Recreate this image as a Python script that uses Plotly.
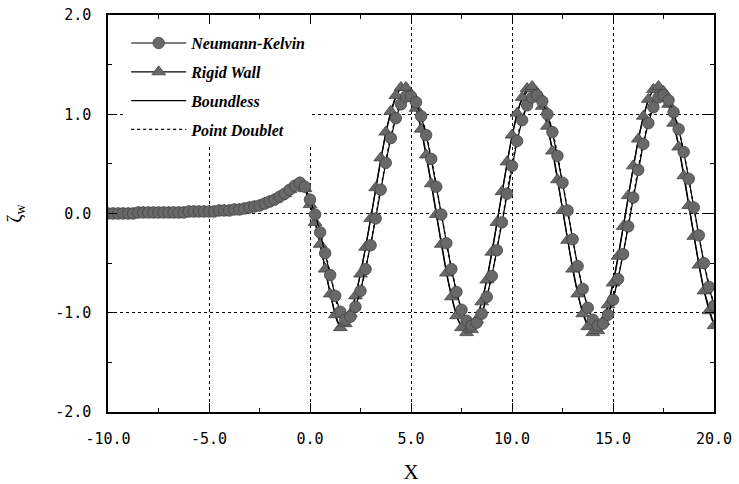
import plotly.graph_objects as go

# sampling grids (x positions of the computed points)
x_fine = [-10 + 0.25 * i for i in range(121)]
x_coarse = [-10 + 0.5 * i for i in range(61)]

# upstream part (x = -10 ... -0.5), common to both marker series
upstream = [0.00, 0.00, 0.00, 0.00, 0.00, 0.00, 0.01, 0.01, 0.01, 0.01,
            0.01, 0.01, 0.01, 0.01, 0.01, 0.01, 0.02, 0.02, 0.02, 0.02,
            0.02, 0.02, 0.03, 0.03, 0.03, 0.04, 0.04, 0.05, 0.06, 0.07,
            0.08, 0.10, 0.12, 0.14, 0.17, 0.20, 0.24, 0.28, 0.31]

neumann_kelvin = upstream + [
    0.27, 0.14, -0.01, -0.19, -0.40, -0.62, -0.83, -0.99,
    -1.07, -1.04, -0.94, -0.78, -0.56, -0.32, -0.05, 0.24, 0.51, 0.76,
    0.96, 1.10, 1.18, 1.18, 1.12, 0.98, 0.79, 0.55, 0.27, -0.01,
    -0.30, -0.56, -0.79, -0.97, -1.08, -1.13, -1.10, -1.01, -0.84, -0.63,
    -0.37, -0.09, 0.20, 0.48, 0.73, 0.94, 1.09, 1.17, 1.19, 1.13,
    1.00, 0.82, 0.58, 0.31, 0.03, -0.26, -0.53, -0.76, -0.95, -1.07,
    -1.13, -1.11, -1.02, -0.87, -0.66, -0.41, -0.13, 0.16, 0.44, 0.70,
    0.91, 1.07, 1.17, 1.19, 1.14, 1.02, 0.85, 0.62, 0.35, 0.06,
    -0.22, -0.50, -0.74, -0.93]

rigid_wall = upstream + [
    0.25, 0.09, -0.09, -0.31, -0.56, -0.81, -1.02,
    -1.15, -1.11, -1.01, -0.83, -0.61, -0.34, -0.05, 0.26, 0.56, 0.82,
    1.03, 1.19, 1.27, 1.27, 1.20, 1.06, 0.85, 0.59, 0.30, -0.01,
    -0.31, -0.60, -0.84, -1.03, -1.15, -1.20, -1.17, -1.07, -0.89, -0.67,
    -0.39, -0.09, 0.22, 0.52, 0.79, 1.01, 1.17, 1.26, 1.28, 1.21,
    1.08, 0.88, 0.63, 0.34, 0.03, -0.27, -0.56, -0.81, -1.01, -1.14,
    -1.20, -1.18, -1.09, -0.92, -0.70, -0.43, -0.13, 0.18, 0.48, 0.75,
    0.98, 1.15, 1.25, 1.28, 1.23, 1.10, 0.91, 0.67, 0.38, 0.08,
    -0.23, -0.52, -0.78, -0.98, -1.13]

boundless = [0.00, 0.00, 0.00, 0.01, 0.01, 0.01, 0.01, 0.01, 0.02, 0.02,
             0.02, 0.03, 0.03, 0.04, 0.06, 0.08, 0.12, 0.17, 0.24, 0.31,
             0.10, -0.30, -0.80, -1.13, -1.00, -0.60, -0.06, 0.54, 1.01, 1.25,
             1.19, 0.85, 0.31, -0.29, -0.82, -1.13, -1.16, -0.89, -0.40, 0.20,
             0.77, 1.15, 1.26, 1.08, 0.64, 0.05, -0.54, -0.99, -1.19, -1.09,
             -0.71, -0.15, 0.46, 0.96, 1.24, 1.23, 0.92, 0.40, -0.21, -0.76,
             -1.12]

point_doublet = [0.00, 0.00, 0.00, 0.01, 0.01, 0.01, 0.01, 0.01, 0.02, 0.02,
                 0.02, 0.03, 0.03, 0.04, 0.06, 0.08, 0.12, 0.17, 0.24, 0.31,
                 0.15, -0.18, -0.60, -0.98, -1.03, -0.77, -0.31, 0.25, 0.77, 1.11,
                 1.19, 0.99, 0.56, 0.00, -0.55, -0.96, -1.12, -1.00, -0.62, -0.08,
                 0.49, 0.95, 1.18, 1.13, 0.83, 0.32, -0.25, -0.75, -1.06, -1.10,
                 -0.86, -0.40, 0.17, 0.71, 1.08, 1.19, 1.02, 0.62, 0.06, -0.49,
                 -0.92]

assert len(neumann_kelvin) == len(x_fine) == len(rigid_wall)
assert len(boundless) == len(x_coarse) == len(point_doublet)

x_tick_vals = [-10, -5, 0, 5, 10, 15, 20]
x_tick_text = ["-10.0", "-5.0", "0.0", "5.0", "10.0", "15.0", "20.0"]
y_tick_vals = [-2, -1, 0, 1, 2]
y_tick_text = ["-2.0", "-1.0", "0.0", "1.0", "2.0"]
x_minor = [-7.5, -2.5, 2.5, 7.5, 12.5, 17.5]
y_minor = [-1.5, -0.5, 0.5, 1.5]

names = ["Neumann-Kelvin", "Rigid Wall", "Boundless", "Point Doublet"]

fig = go.Figure()
fig.add_trace(go.Scatter(
    x=x_coarse, y=boundless, mode="lines", name="<b><i>" + names[2] + "</i></b>",
    line=dict(color="black", width=1.3, shape="spline"),
    legendrank=3, legendgroup="c"))
fig.add_trace(go.Scatter(
    x=x_coarse, y=point_doublet, mode="lines", name="<b><i>" + names[3] + "</i></b>",
    line=dict(color="black", width=1.3, dash="dot", shape="spline"),
    legendrank=4, legendgroup="d"))
fig.add_trace(go.Scatter(
    x=x_fine, y=rigid_wall, mode="lines+markers", name="<b><i>" + names[1] + "</i></b>",
    line=dict(color="black", width=1.2),
    marker=dict(symbol="triangle-up", size=12, color="#686868",
                line=dict(color="#444444", width=0.8)),
    legendrank=2, legendgroup="b"))
fig.add_trace(go.Scatter(
    x=x_fine, y=neumann_kelvin, mode="lines+markers", name="<b><i>" + names[0] + "</i></b>",
    line=dict(color="black", width=1.2),
    marker=dict(symbol="circle", size=11.5, color="#686868",
                line=dict(color="#444444", width=0.8)),
    legendrank=1, legendgroup="a"))

tick_font = dict(family="DejaVu Sans Mono", size=15, color="black")
common = dict(showline=True, linecolor="black", linewidth=1.5, mirror="allticks",
              ticks="inside", ticklen=9, tickwidth=1, tickcolor="black",
              showgrid=True, gridcolor="black", gridwidth=1, griddash="dot",
              zeroline=False, tickfont=tick_font, tickmode="array",
              automargin=False, ticklabeloverflow="allow")

fig.update_xaxes(range=[-10, 20], tickvals=x_tick_vals, ticktext=x_tick_text,
                 ticklabelstandoff=12,
                 minor=dict(tickmode="array", tickvals=x_minor, ticks="inside",
                            ticklen=4, tickcolor="black", showgrid=False),
                 title=dict(text="X", font=dict(family="Liberation Serif", size=21,
                                                color="black"), standoff=20),
                 **common)
fig.update_yaxes(range=[-2, 2], tickvals=y_tick_vals, ticktext=y_tick_text,
                 ticklabelstandoff=12,
                 minor=dict(tickmode="array", tickvals=y_minor, ticks="inside",
                            ticklen=4, tickcolor="black", showgrid=False),
                 title=dict(text="ζ<sub>w</sub>", font=dict(family="Liberation Serif",
                                                            size=20, color="black"),
                            standoff=28),
                 **common)

fig.update_layout(
    width=739, height=484,
    margin=dict(l=108, r=25, t=15, b=72),
    paper_bgcolor="white", plot_bgcolor="white",
    showlegend=True,
    legend=dict(x=0.03, y=0.972, xanchor="left", yanchor="top",
                bgcolor="white", borderwidth=0, traceorder="grouped",
                tracegroupgap=5, itemwidth=55,
                font=dict(family="Liberation Serif", size=16, color="black")),
)

fig.write_html("out.html", config={"displayModeBar": False},
               post_script="document.body.style.margin='0px';")
